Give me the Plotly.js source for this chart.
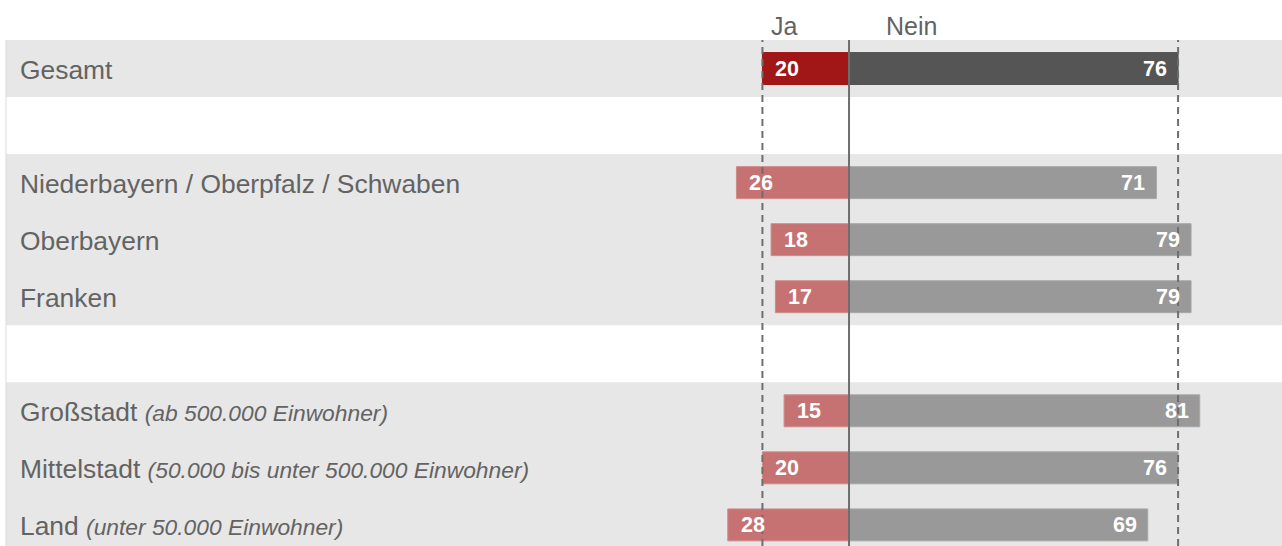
<!DOCTYPE html>
<html>
<head>
<meta charset="utf-8">
<script src="https://cdn.plot.ly/plotly-3.0.1.min.js"></script>
<style>html,body{margin:0;padding:0;background:#fff;}#chart{width:1282px;height:546px;}</style>
</head>
<body>
<div id="chart"></div>
<script>
// ---- data ----
var categories = ['Gesamt', '', 'Niederbayern / Oberpfalz / Schwaben', 'Oberbayern', 'Franken', '', 'Großstadt', 'Mittelstadt', 'Land'];
var subtitles = ['', '', '', '', '', '', '(ab 500.000 Einwohner)', '(50.000 bis unter 500.000 Einwohner)', '(unter 50.000 Einwohner)'];
var ja = [20, null, 26, 18, 17, null, 15, 20, 28];
var nein = [76, null, 71, 79, 79, null, 81, 76, 69];
var seriesNames = ['Ja', 'Nein'];

// ---- build ----
var FONT = 'Liberation Sans, Arial, sans-serif';
var rows = categories.map(function (c, i) { return i; });
var jaNeg = ja.map(function (v) { return v == null ? null : -v; });
var isTotal = categories.map(function (c) { return c === 'Gesamt'; });

var jaColors = isTotal.map(function (t) { return t ? '#a11616' : '#c67272'; });
var neinColors = isTotal.map(function (t) { return t ? '#555555' : '#999999'; });
var jaLine = isTotal.map(function (t) { return t ? '#a11616' : '#d08a8a'; });
var neinLine = isTotal.map(function (t) { return t ? '#555555' : '#a8a8a8'; });

var traces = [
  {
    type: 'bar', orientation: 'h', name: seriesNames[0],
    y: rows, x: jaNeg, width: 0.56,
    marker: {color: jaColors, line: {width: 1, color: jaLine}},
    hoverinfo: 'skip'
  },
  {
    type: 'bar', orientation: 'h', name: seriesNames[1],
    y: rows, x: nein, width: 0.56,
    marker: {color: neinColors, line: {width: 1, color: neinLine}},
    hoverinfo: 'skip'
  }
];

var shapes = [];
var annotations = [];

// grey background bands: merge consecutive non-empty rows
var start = null;
categories.forEach(function (c, i) {
  var filled = c !== '';
  if (filled && start === null) start = i;
  var last = i === categories.length - 1;
  if (start !== null && (!filled || last)) {
    var end = filled ? i : i - 1;
    shapes.push({type: 'rect', layer: 'below', xref: 'paper', yref: 'y', x0: 0, x1: 1, y0: start - 0.5, y1: end + 0.5,
      fillcolor: '#e7e7e7', line: {width: 0}});
    start = null;
  }
});

categories.forEach(function (c, i) {
  if (c === '') return;
  var txt = c + (subtitles[i] ? ' <i><span style="font-size:22.8px">' + subtitles[i] + '</span></i>' : '');
  annotations.push({xref: 'paper', yref: 'y', x: 0, y: i, xanchor: 'left', yanchor: 'middle', xshift: 12, yshift: -1,
    text: txt, showarrow: false, font: {family: FONT, size: 26.4, color: '#636363'}});
  if (ja[i] != null) {
    annotations.push({xref: 'x', yref: 'y', x: -ja[i], y: i, xanchor: 'left', yanchor: 'middle', xshift: 11,
      text: '<b>' + ja[i] + '</b>', showarrow: false, font: {family: FONT, size: 21.5, color: '#ffffff'}});
  }
  if (nein[i] != null) {
    annotations.push({xref: 'x', yref: 'y', x: nein[i], y: i, xanchor: 'right', yanchor: 'middle', xshift: -9,
      text: '<b>' + nein[i] + '</b>', showarrow: false, font: {family: FONT, size: 21.5, color: '#ffffff'}});
  }
});

// reference lines at total values and zero line
shapes.push({type: 'line', layer: 'above', xref: 'x', yref: 'paper', x0: -ja[0], x1: -ja[0], y0: 0, y1: 1,
  line: {color: '#6e6e6e', width: 2, dash: '7px,5px'}});
shapes.push({type: 'line', layer: 'above', xref: 'x', yref: 'paper', x0: nein[0], x1: nein[0], y0: 0, y1: 1,
  line: {color: '#6e6e6e', width: 2, dash: '7px,5px'}});
shapes.push({type: 'line', layer: 'above', xref: 'x', yref: 'paper', x0: 0, x1: 0, y0: 0, y1: 1,
  line: {color: '#6e6e6e', width: 2}});
// faint left border
shapes.push({type: 'line', layer: 'below', xref: 'paper', yref: 'paper', x0: 0, x1: 0, y0: 0, y1: 1,
  line: {color: '#dcdcdc', width: 1}});

// headers
annotations.push({xref: 'x', yref: 'paper', x: -ja[0] / 2 - 5, y: 1, yanchor: 'bottom', xanchor: 'center', yshift: -2,
  text: seriesNames[0], showarrow: false, font: {family: FONT, size: 25, color: '#636363'}});
annotations.push({xref: 'x', yref: 'paper', x: 8, y: 1, yanchor: 'bottom', xanchor: 'left', yshift: -2,
  text: seriesNames[1], showarrow: false, font: {family: FONT, size: 25, color: '#636363'}});

var layout = {
  width: 1282, height: 546,
  margin: {l: 6, r: 0, t: 40, b: 0, pad: 0},
  paper_bgcolor: '#ffffff', plot_bgcolor: 'rgba(0,0,0,0)',
  barmode: 'relative', showlegend: false,
  xaxis: {range: [-194.7, 100], visible: false, fixedrange: true},
  yaxis: {range: [8.37, -0.5], visible: false, fixedrange: true},
  shapes: shapes, annotations: annotations
};

Plotly.newPlot('chart', traces, layout, {displayModeBar: false, staticPlot: true});
</script>
</body>
</html>
